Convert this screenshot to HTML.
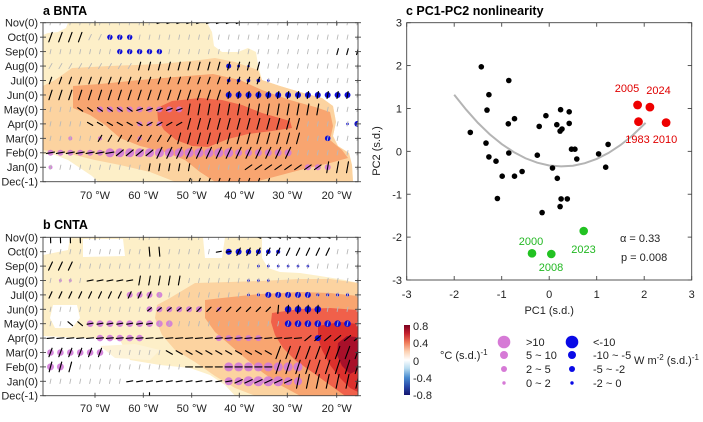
<!DOCTYPE html>
<html><head><meta charset="utf-8"><style>
html,body{margin:0;padding:0;background:#fff;}
svg{display:block;font-family:"Liberation Sans",Arial,sans-serif;}
</style></head><body>
<svg id="s" width="703" height="422" viewBox="0 0 703 422" xmlns="http://www.w3.org/2000/svg">
<defs>
<clipPath id="ca"><rect x="43" y="22.7" width="315" height="159"/></clipPath>
<clipPath id="cb"><rect x="43" y="237.3" width="315" height="158.4"/></clipPath>
<linearGradient id="cbar" x1="0" y1="0" x2="0" y2="1">
<stop offset="0" stop-color="#7a0020"/><stop offset="0.12" stop-color="#c4202e"/>
<stop offset="0.25" stop-color="#ef7a58"/><stop offset="0.38" stop-color="#fcd2b4"/>
<stop offset="0.5" stop-color="#ffffff"/><stop offset="0.62" stop-color="#b8dcf0"/>
<stop offset="0.75" stop-color="#4a8cd0"/><stop offset="0.88" stop-color="#2848a8"/>
<stop offset="1" stop-color="#14146e"/></linearGradient>
</defs>
<rect width="703" height="422" fill="#fff"/>

<!-- Panel a -->
<text x="43" y="15" font-size="12.5" font-weight="bold">a  BNTA</text>
<g clip-path="url(#ca)">
<rect x="43" y="22.7" width="315" height="159" fill="#fdefc8"/>
<polygon fill="#fff" points="43,22.7 68,22.7 66,28 58,32 48,33 43,35"/>
<polygon fill="#fff" points="43,154 55,155 68,160 80,168 92,176 98,181.7 43,181.7"/>
<polygon fill="#fff" points="207,22.7 358,22.7 358,181.7 353,181.7 352,165 349,153 338,146 333,136 336,122 333,106 322,98 300,92 280,86 262,80 258,65 256,52 248,48 238,52 222,52 214,46 212,32"/>
<polygon fill="#fcd3a0" points="43,86 55,80 72,68 110,66 160,64 200,60 215,58 235,62 258,70 262,80 280,86 300,92 322,98 333,106 336,122 333,136 338,146 349,153 352,165 353,181.7 175,181.7 150,172 120,165 95,160 70,154 43,150"/>
<polygon fill="#f8a570" points="73,86 100,84 140,80 175,77 213,74 240,80 262,90 290,100 315,107 330,112 333,126 330,140 342,150 348,158 330,163 300,170 270,178 255,181.7 215,181.7 200,172 185,160 165,152 140,146 120,138 105,125 90,115 73,108"/>
<polygon fill="#f0664a" points="157,108 172,101 200,98 222,100 242,105 262,113 290,121 292,128 272,131 248,134 228,139 208,147 192,146 176,140 164,130 158,120"/>
<g id="pa"></g>
</g>
<rect x="43" y="22.7" width="315" height="159" fill="none" stroke="#444" stroke-width="0.9"/>
<g id="ta"></g>
<g font-size="11" text-anchor="end" fill="#222">
<text x="38" y="26.7">Nov(0)</text><text x="38" y="41.2">Oct(0)</text><text x="38" y="55.6">Sep(0)</text>
<text x="38" y="70">Aug(0)</text><text x="38" y="84.5">Jul(0)</text><text x="38" y="99">Jun(0)</text>
<text x="38" y="113.4">May(0)</text><text x="38" y="127.8">Apr(0)</text><text x="38" y="142.3">Mar(0)</text>
<text x="38" y="156.7">Feb(0)</text><text x="38" y="171.2">Jan(0)</text><text x="38" y="185.7">Dec(-1)</text>
</g>
<g font-size="11" text-anchor="middle" fill="#222">
<text x="95" y="199">70 °W</text><text x="143.3" y="199">60 °W</text><text x="191.7" y="199">50 °W</text>
<text x="239.3" y="199">40 °W</text><text x="287.3" y="199">30 °W</text><text x="336.7" y="199">20 °W</text>
</g>

<!-- Panel b -->
<text x="43" y="229" font-size="12.5" font-weight="bold">b  CNTA</text>
<g clip-path="url(#cb)">
<rect x="43" y="237.3" width="315" height="158.4" fill="#fdefc8"/>
<polygon fill="#fff" points="43,237.3 70,237.3 68,250 43,255"/>
<polygon fill="#fff" points="83,239 123,239 125,256 83,257"/>
<polygon fill="#fff" points="203,237.3 225,237.3 222,258 205,258"/>
<polygon fill="#fff" points="262,237.3 358,237.3 358,283 345,280 320,276 300,273 280,272 268,268 262,258"/>
<polygon fill="#fff" points="53,305 77,305 80,318 72,328 55,328 50,318"/>
<polygon fill="#fff" points="43,336 120,340 130,360 160,365 190,368 210,375 225,385 235,395.7 43,395.7"/>
<polygon fill="#fdf3d8" points="100,346 135,344 160,350 150,360 115,358"/>
<polygon fill="#fcd3a0" points="157,305 170,298 195,283 230,282 260,281 300,279 330,279 358,283 358,395.7 255,395.7 235,388 215,376 195,362 175,350 162,335 155,318"/>
<polygon fill="#f8a570" points="205,300 222,298 260,294 300,292 330,293 358,296 358,395.7 300,395.7 280,385 262,372 245,358 230,345 215,332 205,318"/>
<polygon fill="#f0604a" points="272,313 300,309 330,308 358,310 358,395.7 345,395.7 330,385 312,372 295,360 283,348 275,335 271,322"/>
<polygon fill="#dc302c" points="318,326 340,322 358,324 358,392 350,388 340,378 330,365 322,350 318,338"/>
<polygon fill="#a8102a" points="338,343 347,336 356,337 358,343 358,370 350,374 342,366 337,355"/>
<g id="pb"></g>
</g>
<rect x="43" y="237.3" width="315" height="158.4" fill="none" stroke="#444" stroke-width="0.9"/>
<g id="tb"></g>
<g font-size="11" text-anchor="end" fill="#222">
<text x="38" y="241.3">Nov(0)</text><text x="38" y="255.7">Oct(0)</text><text x="38" y="270.1">Sep(0)</text>
<text x="38" y="284.5">Aug(0)</text><text x="38" y="298.9">Jul(0)</text><text x="38" y="313.3">Jun(0)</text>
<text x="38" y="327.7">May(0)</text><text x="38" y="342.1">Apr(0)</text><text x="38" y="356.5">Mar(0)</text>
<text x="38" y="370.9">Feb(0)</text><text x="38" y="385.3">Jan(0)</text><text x="38" y="399.7">Dec(-1)</text>
</g>
<g font-size="11" text-anchor="middle" fill="#222">
<text x="95" y="412">70 °W</text><text x="143.3" y="412">60 °W</text><text x="191.7" y="412">50 °W</text>
<text x="239.3" y="412">40 °W</text><text x="287.3" y="412">30 °W</text><text x="336.7" y="412">20 °W</text>
</g>

<!-- Panel c -->
<text x="406" y="15" font-size="12.5" font-weight="bold">c  PC1-PC2 nonlinearity</text>
<rect x="406.7" y="22.7" width="285" height="257.3" fill="none" stroke="#444" stroke-width="0.9"/>
<g id="tc" stroke="#444" stroke-width="0.9"></g>
<g font-size="11" text-anchor="end" fill="#222">
<text x="402" y="26.7">3</text><text x="402" y="69.6">2</text><text x="402" y="112.5">1</text>
<text x="402" y="155.4">0</text><text x="402" y="198.3">-1</text><text x="402" y="241.2">-2</text><text x="402" y="284">-3</text>
</g>
<g font-size="11" text-anchor="middle" fill="#222">
<text x="406.7" y="298">-3</text><text x="454.2" y="298">-2</text><text x="501.7" y="298">-1</text>
<text x="549.2" y="298">0</text><text x="596.7" y="298">1</text><text x="644.2" y="298">2</text><text x="691.7" y="298">3</text>
<text x="549.2" y="314">PC1 (s.d.)</text>
</g>
<text transform="translate(380,151) rotate(-90)" font-size="11" text-anchor="middle" fill="#222">PC2 (s.d.)</text>
<polyline fill="none" stroke="#b4b4b4" stroke-width="2" points="454.2,94.7 466.1,109.6 477.95,122.9 489.8,134.4 501.7,144.05 513.6,152 525.45,158.25 537.3,162.7 549.2,165.46 561.1,166.4 572.95,165.7 584.8,163.2 596.7,158.9 608.6,152.9 620.45,145.1 632.3,135.6 645.6,122.9"/>
<g fill="#000" id="bdots"></g>
<g fill="#ee0000">
<circle cx="637.6" cy="105" r="4.4"/><circle cx="649.9" cy="107.1" r="4.4"/>
<circle cx="638.5" cy="121.7" r="4.4"/><circle cx="666.1" cy="122.6" r="4.4"/>
</g>
<g fill="#e00000" font-size="11" text-anchor="middle">
<text x="627" y="92">2005</text><text x="658.5" y="94">2024</text>
<text x="637.5" y="143">1983</text><text x="665" y="143">2010</text>
</g>
<g fill="#22c222">
<circle cx="583.7" cy="231" r="4.3"/><circle cx="532" cy="253.3" r="4.3"/><circle cx="551.3" cy="254" r="4.3"/>
</g>
<g fill="#22b822" font-size="11" text-anchor="middle">
<text x="531" y="245">2000</text><text x="551" y="271">2008</text><text x="583.5" y="253">2023</text>
</g>
<g font-size="11" fill="#222">
<text x="620" y="242">α = 0.33</text>
<text x="621" y="261">p = 0.008</text>
</g>

<!-- Legend -->
<rect x="404" y="325" width="6" height="70" fill="url(#cbar)"/>
<g font-size="11" fill="#222">
<text x="413" y="330">0.8</text><text x="413" y="347">0.4</text><text x="413" y="365">0</text>
<text x="413" y="382">-0.4</text><text x="413" y="399">-0.8</text>
<text x="440" y="359">°C (s.d.)<tspan font-size="8" dy="-4">-1</tspan></text>
<text x="526" y="346">&gt;10</text><text x="526" y="359">5 ~ 10</text><text x="526" y="373">2 ~ 5</text><text x="526" y="387">0 ~ 2</text>
<text x="593" y="346">&lt;-10</text><text x="593" y="359">-10 ~ -5</text><text x="593" y="373">-5 ~ -2</text><text x="593" y="387">-2 ~ 0</text>
<text x="634" y="364">W m<tspan font-size="8" dy="-4">-2</tspan><tspan dy="4"> (s.d.)</tspan><tspan font-size="8" dy="-4">-1</tspan></text>
</g>
<g fill="#d67ad6">
<circle cx="504" cy="342" r="6.3"/><circle cx="504" cy="355" r="4"/><circle cx="504" cy="369" r="3"/><circle cx="504" cy="383" r="1.7"/>
</g>
<g fill="#0a0ae6">
<circle cx="572" cy="342" r="6.3"/><circle cx="572" cy="355" r="4"/><circle cx="572" cy="369" r="3"/><circle cx="572" cy="383" r="1.7"/>
</g>
</svg>
<script>
(function(){
var NS="http://www.w3.org/2000/svg";
function el(p,t,a){var e=document.createElementNS(NS,t);for(var k in a)e.setAttribute(k,a[k]);p.appendChild(e);return e;}
function cx(i){return 50.5+9.9*i;}
function build(gid,y0,dy,purple,blue,ov){
  var g=document.getElementById(gid);
  var grid=[];
  for(var r=0;r<12;r++){grid[r]=[];for(var i=0;i<32;i++)grid[r][i]=[78,4.5,0];}
  ov.forEach(function(o){for(var i=o[1];i<=o[2];i++)grid[o[0]][i]=[o[3],o[4],o[5]];});
  purple.forEach(function(p){for(var i=p[1];i<=p[2];i++)el(g,"circle",{cx:cx(i),cy:y0+dy*p[0],r:p[3],fill:"#d27ad8","fill-opacity":"0.9"});});
  blue.forEach(function(p){for(var i=p[1];i<=p[2];i++)el(g,"circle",{cx:cx(i),cy:y0+dy*p[0],r:p[3],fill:"#0c0cd8"});});
  for(var r=0;r<12;r++)for(var i=0;i<32;i++){
    var s=grid[r][i];if(s[1]<=0)continue;
    var a=s[0]*Math.PI/180,L=s[1]/2,x=cx(i),y=y0+dy*r;
    var ddx=Math.cos(a)*L,ddy=-Math.sin(a)*L;
    el(g,"line",{x1:x-ddx,y1:y-ddy,x2:x+ddx,y2:y+ddy,stroke:s[2]?"#000":"#b8b8b8","stroke-width":s[2]?1.15:0.9,"stroke-linecap":"round"});
  }
}
build("pa",22.7,14.455,
 [[6,5,13,3],[7,9,11,2.5],[8,2,2,2],[8,5,5,2],[8,9,9,2],[9,0,5,3],[9,6,18,4.5],[9,19,24,3.5],[10,0,0,2],[10,26,28,3]],
 [[1,6,8,2.7],[2,7,11,2.7],[3,18,18,2.5],[3,19,19,1.4],[3,20,20,1.2],[4,18,21,1.8],[4,22,22,1.3],[5,18,30,3],[7,30,30,1.3],[7,31,31,3],[8,28,28,2.8]],
 [[0,11,19,20,5,1],[1,0,3,70,10,1],[1,4,5,65,6,0],[2,29,31,75,6,1],[3,0,8,60,6,0],[3,9,21,75,8,1],
  [4,0,21,70,7,1],[5,0,17,72,10,1],[5,18,30,80,7,1],[6,3,8,-35,6,1],[6,9,13,20,6,1],[6,14,27,80,11,1],
  [7,4,9,-30,6,1],[7,10,13,30,6,1],[7,14,25,75,11,1],[8,5,12,60,7,1],[8,13,25,75,11,1],
  [9,0,6,10,8,1],[9,7,10,40,9,1],[9,11,24,65,12,1],[10,10,14,80,7,1],[10,20,27,35,8,1],[10,28,30,80,11,1],
  [11,0,13,0,0,0],[11,14,22,70,7,1],[11,23,31,0,0,0]]);
build("pb",237.3,14.4,
 [[3,1,2,1.5],[4,8,11,3],[5,10,15,3],[5,17,17,2],[6,4,12,3.3],[7,5,9,3.3],[7,17,21,3],[8,0,5,3.3],[9,0,1,3.5],[9,18,25,4.5],[10,18,19,4],[10,20,23,5],[10,24,25,4]],
 [[1,18,19,3],[1,20,20,2.7],[1,21,21,2.5],[1,22,22,2.3],[1,23,23,2],[2,21,26,1.3],[3,20,22,1.3],[4,20,20,1.3],[4,21,21,1.5],[4,22,26,3],[4,27,30,1.5],[5,24,27,3.3],[6,24,30,3.3],[7,27,27,3]],
 [[0,0,3,92,11,1],[0,21,28,-20,5,1],[1,10,11,95,9,1],[1,17,18,10,5,1],[1,19,28,65,8,1],[2,0,2,65,9,1],
  [3,4,8,10,6,1],[3,9,13,80,9,1],[4,0,10,65,7,1],[5,10,14,40,5,1],[5,15,22,45,6,1],[5,23,27,85,8,1],
  [6,2,3,-40,6,1],[6,4,10,10,6,1],[7,0,25,5,7,1],[7,26,31,40,8,1],[8,0,5,70,9,1],[8,12,22,-30,7,1],[8,23,31,70,13,1],
  [9,0,2,75,10,1],[9,14,22,0,7,1],[9,23,31,72,14,1],[10,8,18,10,6,1],[10,19,24,25,8,1],[10,25,31,78,14,1],
  [11,0,9,0,0,0],[11,10,10,90,6,1],[11,11,31,0,0,0]]);
[["ta",22.7,14.455,181.7],["tb",237.3,14.4,395.7]].forEach(function(t){
  var g=document.getElementById(t[0]);
  for(var r=0;r<12;r++){var y=t[1]+t[2]*r;
    el(g,"line",{x1:40,y1:y,x2:46,y2:y,stroke:"#444","stroke-width":0.9});
    el(g,"line",{x1:355,y1:y,x2:361,y2:y,stroke:"#444","stroke-width":0.9});}
  [95,143.3,191.7,239.3,287.3,336.7].forEach(function(x){
    el(g,"line",{x1:x,y1:t[1]-2,x2:x,y2:t[1]+3,stroke:"#444","stroke-width":0.9});
    el(g,"line",{x1:x,y1:t[3]-3,x2:x,y2:t[3]+2,stroke:"#444","stroke-width":0.9});});
});
var gc=document.getElementById("tc");
for(var k=0;k<7;k++){var x=406.7+47.5*k,y=22.7+42.883*k;
  el(gc,"line",{x1:x,y1:280,x2:x,y2:276});el(gc,"line",{x1:x,y1:22.7,x2:x,y2:26.7});
  el(gc,"line",{x1:406.7,y1:y,x2:410.7,y2:y});el(gc,"line",{x1:691.7,y1:y,x2:687.7,y2:y});}
var pts=[[481.3,66.8],[508.8,80.5],[488.9,94.7],[487,110.1],[514.5,118.7],[508.3,123.8],[470.3,132.4],[545.9,115.7],[539.2,126.4],[560.6,109.7],[569.2,111.8],[556.8,124.7],[562,129],[560.1,131.1],[569.2,123.4],[486,143.1],[488.9,156.9],[508.8,153],[496,161.2],[537.3,155.2],[571.5,149.2],[574.9,149.2],[576.8,159],[598.6,153.9],[608.1,144.4],[605.7,167.2],[502.2,176.2],[514.5,176.2],[522.1,171.5],[552.5,168],[557.3,178.3],[497.4,198.5],[561.1,198.9],[567.3,198.9],[560.1,206.6],[542.1,212.6]];
var gd=document.getElementById("bdots");
pts.forEach(function(p){el(gd,"circle",{cx:p[0],cy:p[1],r:2.8});});
})();
</script>
</body></html>
